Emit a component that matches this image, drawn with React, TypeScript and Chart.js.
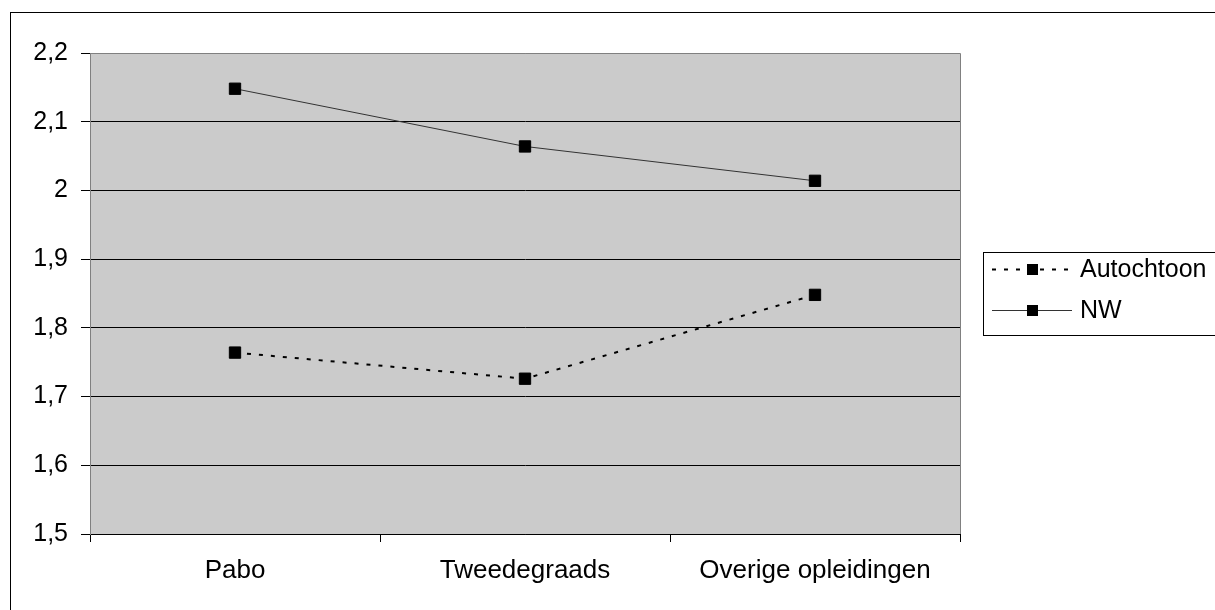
import React, { useEffect, useRef } from "react";
import { Chart, registerables } from "chart.js";

Chart.register(...registerables);

const categories = ["Pabo", "Tweedegraads", "Overige opleidingen"];
const autochtoonValues = [1.764, 1.726, 1.848];
const nwValues = [2.148, 2.064, 2.014];
const seriesLabels = ["Autochtoon", "NW"];
const yMin = 1.5;
const yMax = 2.2;
const yStep = 0.1;

const FONT = "'Liberation Sans', Arial, sans-serif";

const fmt = (v: number) => {
  const r = Math.round(v * 10) / 10;
  return r.toString().replace(".", ",");
};

const framePlugin = {
  id: "frame",
  beforeDraw(chart: any) {
    const { ctx, chartArea } = chart;
    ctx.save();
    ctx.fillStyle = "#ffffff";
    ctx.fillRect(0, 0, chart.width, chart.height);
    ctx.strokeStyle = "#000000";
    ctx.lineWidth = 1;
    ctx.strokeRect(10.5, 12.5, 1400, 800);
    ctx.fillStyle = "#cbcbcb";
    ctx.fillRect(chartArea.left, chartArea.top, chartArea.right - chartArea.left, chartArea.bottom - chartArea.top);
    ctx.restore();
  },
  beforeDatasetsDraw(chart: any) {
    const { ctx, chartArea } = chart;
    ctx.save();
    ctx.strokeStyle = "#808080";
    ctx.lineWidth = 1;
    ctx.beginPath();
    ctx.moveTo(Math.round(chartArea.left) + 0.5, Math.round(chartArea.bottom));
    ctx.lineTo(Math.round(chartArea.left) + 0.5, Math.round(chartArea.top) + 0.5);
    ctx.lineTo(Math.round(chartArea.right) + 0.5, Math.round(chartArea.top) + 0.5);
    ctx.lineTo(Math.round(chartArea.right) + 0.5, Math.round(chartArea.bottom));
    ctx.stroke();
    ctx.restore();
  },
  afterDraw(chart: any) {
    const { ctx } = chart;
    ctx.save();
    const bx = 983.5, by = 252.5, bw = 260, bh = 83;
    ctx.strokeStyle = "#000000";
    ctx.lineWidth = 1;
    ctx.fillStyle = "#ffffff";
    ctx.fillRect(bx, by, bw, bh);
    ctx.strokeRect(bx, by, bw, bh);
    const rows = [269, 310];
    chart.data.datasets.forEach((ds: any, i: number) => {
      const y = rows[i];
      ctx.save();
      ctx.strokeStyle = ds.borderColor;
      ctx.lineWidth = ds.borderWidth;
      ctx.setLineDash(ds.borderDash || []);
      ctx.beginPath();
      ctx.moveTo(992, y + 0.5);
      ctx.lineTo(1072, y + 0.5);
      ctx.stroke();
      ctx.restore();
      ctx.fillStyle = "#000000";
      ctx.fillRect(1027, y - 5, 11, 11);
      ctx.fillStyle = "#000000";
      ctx.font = `25px ${FONT}`;
      ctx.textBaseline = "middle";
      ctx.textAlign = "left";
      ctx.fillText(ds.label, 1080, y + 1);
    });
    ctx.restore();
  },
};

export default function App() {
  const ref = useRef<HTMLCanvasElement | null>(null);
  useEffect(() => {
    if (!ref.current) return;
    const chart = new Chart(ref.current, {
      type: "line",
      data: {
        labels: categories,
        datasets: [
          {
            label: seriesLabels[0],
            data: autochtoonValues,
            borderColor: "#000000",
            borderWidth: 2,
            borderDash: [4, 8],
            pointStyle: "rect",
            pointRadius: 8,
            pointBackgroundColor: "#000000",
            pointBorderColor: "#000000",
            pointBorderWidth: 1,
            tension: 0,
          },
          {
            label: seriesLabels[1],
            data: nwValues,
            borderColor: "#333333",
            borderWidth: 1,
            pointStyle: "rect",
            pointRadius: 8,
            pointBackgroundColor: "#000000",
            pointBorderColor: "#000000",
            pointBorderWidth: 1,
            tension: 0,
          },
        ],
      },
      options: {
        responsive: false,
        animation: false,
        layout: { padding: { left: 0, top: 53, right: 255, bottom: 0 } },
        plugins: { legend: { display: false }, tooltip: { enabled: false } },
        scales: {
          x: {
            offset: true,
            grid: {
              offset: true,
              drawOnChartArea: false,
              drawTicks: true,
              tickLength: 8,
              color: "#000000",
            },
            border: { display: true, color: "#000000", width: 1 },
            ticks: {
              color: "#000000",
              font: { family: FONT, size: 26 },
              padding: 13,
              maxRotation: 0,
              autoSkip: false,
            },
            afterFit(scale: any) {
              scale.height = 76;
            },
          },
          y: {
            min: yMin,
            max: yMax,
            grid: {
              color: (c: any) => (c.tick && Math.abs(c.tick.value - yMax) < 1e-6 ? "#808080" : "#000000"),
              tickColor: "#000000",
              tickLength: 9,
              lineWidth: 1,
            },
            border: { display: true, color: "#808080", width: 1 },
            ticks: {
              stepSize: yStep,
              color: "#000000",
              font: { family: FONT, size: 25 },
              padding: 13,
              callback: (v: any) => fmt(Number(v)),
            },
            afterFit(scale: any) {
              scale.width = 90;
            },
          },
        },
      },
      plugins: [framePlugin],
    });
    return () => chart.destroy();
  }, []);
  return (
    <div style={{ position: "fixed", left: 0, top: 0, width: 1215, height: 610, overflow: "hidden", background: "#fff" }}>
      <canvas ref={ref} width={1215} height={610} style={{ display: "block", width: 1215, height: 610 }} />
    </div>
  );
}
